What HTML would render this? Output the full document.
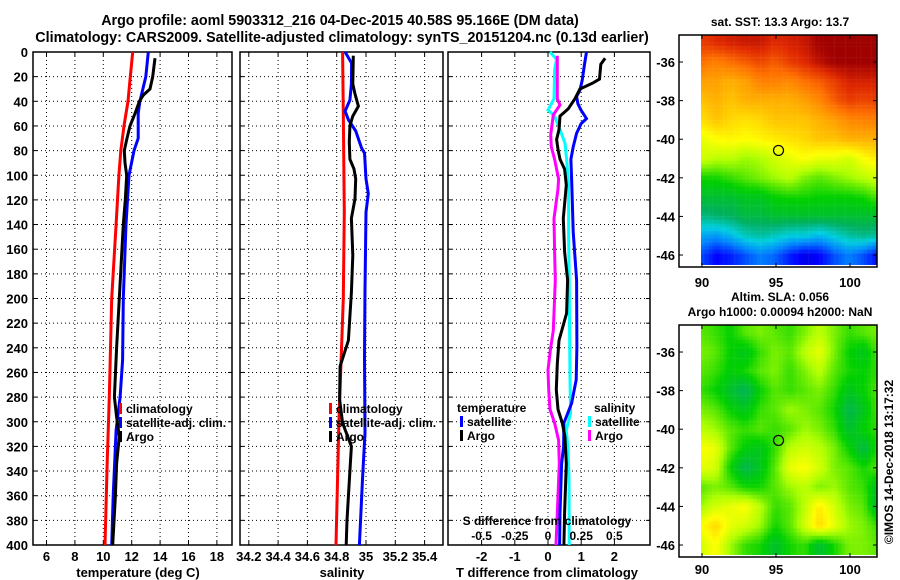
<!DOCTYPE html>
<html><head><meta charset="utf-8">
<style>
body{margin:0;background:#fff;}
#wrap{position:relative;width:900px;height:580px;overflow:hidden;font-family:"Liberation Sans",Arial,sans-serif;}
svg text{font-family:"Liberation Sans",Arial,sans-serif;font-weight:bold;}
canvas{position:absolute;}
</style></head>
<body>
<div id="wrap">
<canvas id="sst" width="176" height="230" style="left:701px;top:35px"></canvas>
<canvas id="sla" width="176" height="230" style="left:701px;top:325px"></canvas>
<svg id="svg" width="900" height="580" style="position:absolute;left:0;top:0"></svg>
</div>
<script>
// ---- data ----
const climTDepth=[0,20,40,60,80,100,140,200,280,330,400];
const climT=[12.07,11.9,11.74,11.46,11.23,11.1,10.9,10.59,10.42,10.28,10.12];
const satTDepth=[0,20,40,50,70,80,100,140,200,250,280,307,360,400];
const satT=[13.17,12.99,12.58,12.46,12.46,12.16,11.81,11.6,11.41,11.36,11.18,10.9,10.7,10.59];
const argoTDepth=[5,20,30,35,40,50,60,70,80,90,100,120,140,200,240,280,296,312,334,360,400];
const argoT=[13.64,13.48,13.29,12.82,12.54,12.23,11.88,11.67,11.48,11.53,11.65,11.55,11.41,11.13,10.94,10.78,10.94,11.13,10.94,10.85,10.66];
const climSDepth=[0,50,130,200,250,300,400];
const climS=[34.84,34.845,34.852,34.845,34.83,34.815,34.795];
const satSDepth=[0,9,26,39,48,55,64,78,82,103,115,130,193,247,309,345,362,400];
const satS=[34.857,34.902,34.9,34.89,34.857,34.88,34.93,34.97,34.99,35.0,35.016,35.0,34.993,34.99,34.993,34.977,34.97,34.955];
const argoSDepth=[3,26,34,44,52,60,73,87,95,103,119,135,165,195,234,255,282,301,320,340,380,400];
const argoS=[34.913,34.91,34.925,34.948,34.91,34.89,34.886,34.89,34.918,34.93,34.925,34.9,34.91,34.9,34.88,34.823,34.82,34.84,34.9,34.89,34.87,34.865];
const satDTDepth=[0,10,23,31,36,42,47,54,58,66,77,87,110,146,185,239,266,285,301,320,334,374,400];
const satDT=[1.16,1.1,1.03,0.96,0.86,0.9,0.99,1.16,1.0,0.86,0.76,0.69,0.72,0.76,0.86,0.87,0.85,0.71,0.48,0.47,0.41,0.36,0.35];
const argoDTDepth=[5,10,22,25,30,38,46,52,63,71,79,87,95,108,135,162,185,212,234,253,274,290,301,312,334,374,400];
const argoDT=[1.72,1.59,1.55,1.36,0.96,0.81,0.61,0.36,0.33,0.26,0.3,0.36,0.5,0.55,0.46,0.5,0.59,0.56,0.33,0.28,0.25,0.3,0.43,0.51,0.55,0.5,0.48];
const satDSDepth=[0,6,14,38,47,52,63,74,87,108,149,185,266,293,307,320,347,400];
const satDS=[0.015,0.065,0.05,0.045,0.0,0.05,0.09,0.128,0.14,0.155,0.155,0.16,0.166,0.17,0.137,0.15,0.158,0.16];
const argoDSDepth=[3,38,43,51,67,77,87,103,111,135,162,185,226,242,258,274,290,301,315,334,374,400];
const argoDS=[0.07,0.07,0.09,0.04,0.02,0.025,0.05,0.08,0.075,0.045,0.05,0.055,0.04,0.017,0.0,0.005,0.015,0.05,0.08,0.085,0.07,0.06];
const depthTicks=[0,20,40,60,80,100,120,140,160,180,200,220,240,260,280,300,320,340,360,380,400];
const tTicks=[6,8,10,12,14,16,18];
const sTicks=[34.2,34.4,34.6,34.8,35,35.2,35.4];
const dTTicks=[-2,-1,0,1,2];
const dSTickLabels=["-0.5","-0.25","0","0.25","0.5"];
const dSTicks=[-0.5,-0.25,0,0.25,0.5];
const mapLons=[90,95,100];
const mapLats=[-36,-38,-40,-42,-44,-46];
const sstGrid=[
[.93,.95,.96,.97,.97,.95,.96,.97,1,1,1,1,1],
[.88,.86,.88,.9,.92,.9,.93,.95,.98,1,1,1,1],
[.82,.82,.8,.82,.86,.86,.85,.88,.9,.93,.96,.96,.96],
[.78,.8,.78,.8,.8,.8,.8,.82,.85,.9,.93,.92,.93],
[.75,.78,.76,.75,.76,.78,.78,.78,.8,.82,.85,.86,.86],
[.7,.72,.73,.72,.73,.74,.75,.76,.78,.78,.8,.8,.8],
[.68,.66,.66,.64,.65,.68,.7,.72,.7,.7,.68,.72,.74],
[.56,.56,.58,.6,.62,.64,.66,.62,.6,.62,.64,.66,.68],
[.5,.5,.5,.52,.52,.55,.56,.56,.55,.55,.55,.56,.6],
[.42,.44,.45,.48,.48,.5,.5,.5,.5,.5,.5,.5,.5],
[.3,.28,.32,.38,.4,.38,.35,.35,.32,.36,.4,.42,.4],
[.2,.12,.15,.2,.25,.22,.15,.1,.12,.2,.25,.2,.12]];
const slaGrid=[
[.6,.58,.55,.6,.62,.6,.58,.62,.66,.62,.58,.6,.62],
[.62,.6,.55,.52,.58,.62,.6,.66,.7,.62,.55,.52,.6],
[.6,.58,.54,.56,.6,.62,.58,.62,.66,.6,.56,.55,.58],
[.58,.55,.5,.46,.55,.6,.58,.6,.62,.58,.52,.55,.6],
[.62,.6,.55,.52,.58,.6,.64,.62,.6,.56,.47,.52,.6],
[.66,.64,.6,.58,.6,.58,.6,.64,.62,.58,.5,.55,.58],
[.72,.7,.6,.54,.52,.58,.66,.68,.66,.62,.55,.48,.58],
[.7,.68,.55,.47,.52,.6,.7,.72,.68,.62,.6,.56,.6],
[.6,.62,.6,.56,.56,.6,.64,.66,.62,.64,.6,.58,.5],
[.64,.68,.7,.72,.66,.58,.6,.66,.74,.68,.62,.6,.48],
[.72,.76,.7,.68,.64,.56,.6,.68,.76,.7,.64,.62,.58],
[.68,.72,.64,.58,.56,.5,.56,.58,.5,.56,.62,.62,.6]];
const floatLon=95.17, floatLat=-40.58;

// ---- helpers ----
const NS="http://www.w3.org/2000/svg";
const svg=document.getElementById('svg');
function mk(tag,attrs,parent){const e=document.createElementNS(NS,tag);for(const k in attrs)e.setAttribute(k,attrs[k]);(parent||svg).appendChild(e);return e;}
function txt(x,y,s,size,anchor,parent){const t=mk('text',{x:x,y:y,'font-size':size,'text-anchor':anchor||'middle',fill:'#000'},parent);t.textContent=s;return t;}
const yD=d=>52+d*1.2325;
const xT=v=>103.3+(v-10)*14.2;
const xS=v=>336.7+(v-34.8)*146.5;
const xDT=v=>548+v*33.2;
const xDS=v=>548+v*132.8;

function panel(name,x0,x1,ticks,xf,labels,showY){
  const g=mk('g',{});
  
  
  depthTicks.forEach(d=>{ if(d>0&&d<400) mk('line',{x1:x0,x2:x1,y1:yD(d),y2:yD(d),stroke:'#000','stroke-width':1,'stroke-dasharray':'1,3'},g);
    mk('line',{x1:x0,x2:x0+4,y1:yD(d),y2:yD(d),stroke:'#000'},g);
    mk('line',{x1:x1-4,x2:x1,y1:yD(d),y2:yD(d),stroke:'#000'},g);
    if(showY){const t=txt(28,yD(d)+5,String(d),13,'end',g);}
  });
  ticks.forEach((v,i)=>{const x=xf(v);
    mk('line',{x1:x,x2:x,y1:52,y2:545,stroke:'#000','stroke-width':1,'stroke-dasharray':'1,3'},g);
    mk('line',{x1:x,x2:x,y1:52,y2:56,stroke:'#000'},g);
    mk('line',{x1:x,x2:x,y1:541,y2:545,stroke:'#000'},g);
    const t=txt(x,561,labels?labels[i]:String(v),13,'middle',g);
    
    
  });
  mk('rect',{x:x0,y:52,width:x1-x0,height:493,fill:'none',stroke:'#000','stroke-width':1.5},g);
  return g;
}
function series(name,depths,vals,xf,color){
  const pts=depths.map((d,i)=>xf(vals[i]).toFixed(1)+','+yD(d).toFixed(1)).join(' ');
  const p=mk('polyline',{points:pts,fill:'none',stroke:color,'stroke-width':3,'stroke-linejoin':'miter'});
  
  
}
function legend(x,y,items,name){
  const g=mk('g',{});
  
  
  items.forEach((it,i)=>{
    if(it[1]) mk('rect',{x:x,y:y+i*14-10,width:3,height:11,fill:it[1]},g);
    txt(x+(it[1]?7:0),y+i*14,it[0],12,'start',g);
  });
}

// titles
let t1=txt(340,25,'Argo profile: aoml 5903312_216 04-Dec-2015 40.58S 95.166E (DM data)',14.3);

let t2=txt(342,42,'Climatology: CARS2009. Satellite-adjusted climatology: synTS_20151204.nc (0.13d earlier)',14.3);


// panel 1 temperature
panel('temperature-panel',33,232,tTicks,xT,null,true);
series('climatology-temperature-line',climTDepth,climT,xT,'#ff0000');
series('satellite-temperature-line',satTDepth,satT,xT,'#0000ff');
series('argo-temperature-line',argoTDepth,argoT,xT,'#000000');
legend(119,413,[['climatology','#ff0000'],['satellite-adj. clim.','#0000ff'],['Argo','#000000']],'temperature-legend');
let a1=txt(138,577,'temperature (deg C)',13);

// panel 2 salinity
panel('salinity-panel',240,443,sTicks,xS,['34.2','34.4','34.6','34.8','35','35.2','35.4'],false);
series('climatology-salinity-line',climSDepth,climS,xS,'#ff0000');
series('satellite-salinity-line',satSDepth,satS,xS,'#0000ff');
series('argo-salinity-line',argoSDepth,argoS,xS,'#000000');
legend(329,413,[['climatology','#ff0000'],['satellite-adj. clim.','#0000ff'],['Argo','#000000']],'salinity-legend');
let a2=txt(342,577,'salinity',13);

// panel 3 differences
panel('difference-panel',448,650,dTTicks,xDT,null,false);
series('satellite-s-diff-line',satDSDepth,satDS,xDS,'#00ffff');
series('argo-s-diff-line',argoDSDepth,argoDS,xDS,'#ff00ff');
series('satellite-t-diff-line',satDTDepth,satDT,xDT,'#0000ff');
series('argo-t-diff-line',argoDTDepth,argoDT,xDT,'#000000');
legend(457,412,[['temperature',null]],'t-legend-title');
legend(460,426,[['satellite','#0000ff'],['Argo','#000000']],'t-diff-legend');
legend(594,412,[['salinity',null]],'s-legend-title');
legend(588,426,[['satellite','#00ffff'],['Argo','#ff00ff']],'s-diff-legend');
let sd=txt(547,525,'S difference from climatology',12);
dSTicks.forEach((v,i)=>{const t=txt(xDS(v),540,dSTickLabels[i],12);});
let a3=txt(547,577,'T difference from climatology',13);

// ---- maps ----
const stops=[[0,[0,0,128]],[0.12,[0,0,255]],[0.25,[0,128,255]],[0.35,[0,208,224]],[0.45,[0,176,96]],[0.55,[0,208,0]],[0.65,[176,255,0]],[0.72,[255,255,0]],[0.8,[255,176,0]],[0.88,[255,112,0]],[0.95,[224,40,0]],[1,[160,0,0]]];
function cmap(v){v=Math.max(0,Math.min(1,v));for(let i=1;i<stops.length;i++){if(v<=stops[i][0]){const a=stops[i-1],b=stops[i],f=(v-a[0])/(b[0]-a[0]);return a[1].map((c,k)=>Math.round(c+(b[1][k]-c)*f));}}return stops[stops.length-1][1];}
function sample(grid,lon,lat){const c=Math.max(0,Math.min(12,lon-90)),r=Math.max(0,Math.min(11,-35-lat));
  const c0=Math.min(11,Math.floor(c)),r0=Math.min(10,Math.floor(r)),fc=c-c0,fr=r-r0;
  return grid[r0][c0]*(1-fc)*(1-fr)+grid[r0][c0+1]*fc*(1-fr)+grid[r0+1][c0]*(1-fc)*fr+grid[r0+1][c0+1]*fc*fr;}
function drawMap(id,grid,cell){const cv=document.getElementById(id),ctx=cv.getContext('2d');
  const pxLon=14.8,pxLat=19.3;
  for(let y=0;y<230;y+=cell)for(let x=0;x<176;x+=cell){
    const lon=90+(x+cell/2)/pxLon,lat=-34.6-(y+cell/2)/pxLat;
    const c=cmap(sample(grid,lon,lat));ctx.fillStyle='rgb('+c.join(',')+')';ctx.fillRect(x,y,cell+0.5,cell+0.5);}
}
drawMap('sst',sstGrid,3.7);
drawMap('sla',slaGrid,3.7);

function mapFrame(name,top,titleLines,xLabelY){
  const g=mk('g',{});
  
  
  const lonX=l=>702+(l-90)*14.8, latY=l=>top+( -34.6-l)*19.3;
  mk('rect',{x:679,y:top,width:198,height:232,fill:'none',stroke:'#000','stroke-width':1.5},g);
  mapLons.forEach(l=>{mk('line',{x1:lonX(l),x2:lonX(l),y1:top,y2:top+4,stroke:'#000'},g);mk('line',{x1:lonX(l),x2:lonX(l),y1:top+228,y2:top+232,stroke:'#000'},g);txt(lonX(l),xLabelY,String(l),13,'middle',g);});
  mapLats.forEach(l=>{mk('line',{x1:873,x2:877,y1:latY(l),y2:latY(l),stroke:'#000'},g);mk('line',{x1:679,x2:683,y1:latY(l),y2:latY(l),stroke:'#000'},g);txt(675,latY(l)+5,String(l),13,'end',g);});
  mk('circle',{cx:lonX(floatLon),cy:latY(floatLat),r:5,fill:'none',stroke:'#000','stroke-width':1.2},g);
  titleLines.forEach(tl=>txt(780,tl[1],tl[0],12,'middle',g));
}
mapFrame('sst-map-frame',35,[['sat. SST: 13.3 Argo: 13.7',26]],287);
mapFrame('sla-map-frame',325,[['Altim. SLA: 0.056',301],['Argo h1000: 0.00094 h2000: NaN',316]],574);
const cr=txt(0,0,'\u00A9IMOS 14-Dec-2018 13:17:32',12,'middle');
cr.setAttribute('transform','translate(893,462) rotate(-90)');
cr.setAttribute('font-weight','normal');


</script>
</body></html>
